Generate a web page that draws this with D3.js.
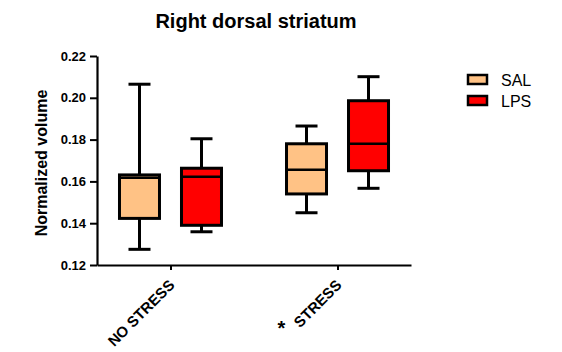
<!DOCTYPE html>
<html>
<head>
<meta charset="utf-8">
<style>
  body { margin: 0; background: #fff; }
  text { font-family: "Liberation Sans", Arial, sans-serif; }
</style>
</head>
<body>
<svg width="562" height="352"></svg>
<script src="https://d3js.org/d3.v7.min.js"></script>
<script>

var groups = ["NO STRESS", "STRESS"],
    series = ["SAL", "LPS"],
    colors = ["#ffc285", "#ff0000"],
    yTicks = [0.12, 0.14, 0.16, 0.18, 0.20, 0.22];

// [min, q1, median, q3, max] per group
var salBoxes = [
  [0.1275, 0.1423, 0.1618, 0.1631, 0.2065],
  [0.1450, 0.1540, 0.1656, 0.1780, 0.1865]
];
var lpsBoxes = [
  [0.1359, 0.1390, 0.1622, 0.1663, 0.1804],
  [0.1567, 0.1651, 0.1780, 0.1986, 0.2101]
];

var svg = d3.select("svg"),
    margin = {top: 56, right: 151, bottom: 87, left: 97},
    width = +svg.attr("width") - margin.left - margin.right,
    height = +svg.attr("height") - margin.top - margin.bottom,
    g = svg.append("g").attr("transform", "translate(" + margin.left + "," + margin.top + ")");

var y = d3.scaleLinear().domain([0.12, 0.22]).range([height, 0]);

var x = d3.scalePoint().domain(groups).range([0, width]).padding(0.44);

var boxW = 40, offset = 31;

// axes
var yAxis = g.append("g")
    .call(d3.axisLeft(y).tickValues(yTicks).tickFormat(d3.format(".2f")).tickSize(7).tickSizeOuter(0));
var xAxis = g.append("g")
    .attr("transform", "translate(0," + height + ")")
    .call(d3.axisBottom(x).tickSize(5).tickSizeOuter(0).tickFormat(""));

[yAxis, xAxis].forEach(function(a) {
  a.select(".domain").attr("stroke", "#000").attr("stroke-width", 2.2);
  a.selectAll(".tick line").attr("stroke", "#000").attr("stroke-width", 2);
});
yAxis.selectAll(".tick text")
    .attr("x", -11)
    .attr("font-family", "'Liberation Sans', Arial, sans-serif")
    .attr("font-size", 13)
    .attr("font-weight", "bold")
    .attr("fill", "#000");

// rotated category labels
g.append("g").selectAll("text")
  .data(groups)
  .enter().append("text")
    .attr("transform", function(d) { return "translate(" + (x(d) + 5) + "," + (height + 21) + ") rotate(-45)"; })
    .attr("text-anchor", "end")
    .attr("font-size", 15)
    .attr("font-weight", "bold")
    .text(function(d) { return d; });

// significance marker
g.append("text")
    .attr("x", x("STRESS") - 56)
    .attr("y", height + 70)
    .attr("text-anchor", "middle")
    .attr("font-size", 20)
    .attr("font-weight", "bold")
    .text("*");

// boxes
function drawBoxes(data, color, dx) {
  var b = g.append("g").selectAll("g")
    .data(data)
    .enter().append("g")
      .attr("transform", function(d, i) { return "translate(" + (x(groups[i]) + dx) + ",0)"; });

  b.append("line")
      .attr("y1", function(d) { return y(d[0]); })
      .attr("y2", function(d) { return y(d[4]); })
      .attr("stroke", "#000").attr("stroke-width", 3);
  b.append("line")
      .attr("x1", -11).attr("x2", 11)
      .attr("y1", function(d) { return y(d[0]); })
      .attr("y2", function(d) { return y(d[0]); })
      .attr("stroke", "#000").attr("stroke-width", 3);
  b.append("line")
      .attr("x1", -11).attr("x2", 11)
      .attr("y1", function(d) { return y(d[4]); })
      .attr("y2", function(d) { return y(d[4]); })
      .attr("stroke", "#000").attr("stroke-width", 3);
  b.append("rect")
      .attr("x", -boxW / 2)
      .attr("width", boxW)
      .attr("y", function(d) { return y(d[3]); })
      .attr("height", function(d) { return y(d[1]) - y(d[3]); })
      .attr("fill", color)
      .attr("stroke", "#000").attr("stroke-width", 3);
  b.append("line")
      .attr("x1", -boxW / 2).attr("x2", boxW / 2)
      .attr("y1", function(d) { return y(d[2]); })
      .attr("y2", function(d) { return y(d[2]); })
      .attr("stroke", "#000").attr("stroke-width", 2.5);
}
drawBoxes(salBoxes, colors[0], -offset);
drawBoxes(lpsBoxes, colors[1], offset);

// title and y label
svg.append("text")
    .attr("x", 256).attr("y", 28)
    .attr("text-anchor", "middle")
    .attr("font-size", 20)
    .attr("font-weight", "bold")
    .text("Right dorsal striatum");

svg.append("text")
    .attr("transform", "translate(47,163) rotate(-90)")
    .attr("text-anchor", "middle")
    .attr("font-size", 16)
    .attr("font-weight", "bold")
    .text("Normalized volume");

// legend
var legend = svg.append("g").selectAll("g")
  .data(series)
  .enter().append("g")
    .attr("transform", function(d, i) { return "translate(468," + (75 + i * 21) + ")"; });
legend.append("rect")
    .attr("width", 19).attr("height", 9)
    .attr("fill", function(d, i) { return colors[i]; })
    .attr("stroke", "#000").attr("stroke-width", 2.5);
legend.append("text")
    .attr("x", 33).attr("y", 11)
    .attr("font-size", 16)
    .text(function(d) { return d; });

</script>
</body>
</html>
